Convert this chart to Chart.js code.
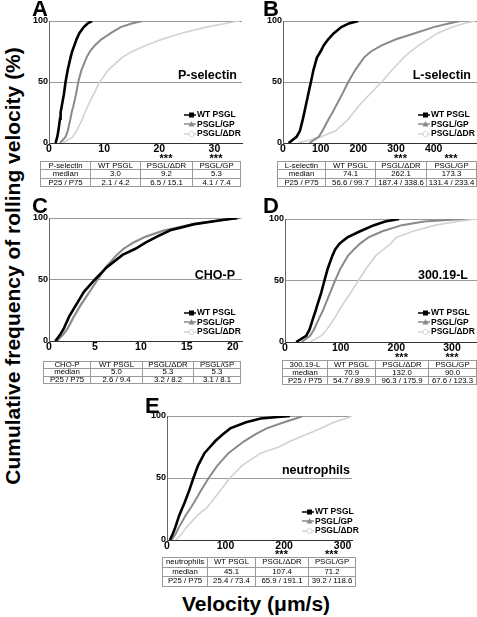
<!DOCTYPE html>
<html>
<head>
<meta charset="utf-8">
<script src="https://cdn.jsdelivr.net/npm/chart.js@4/dist/chart.umd.min.js"></script>
<style>
body { margin:0; width:477px; height:617px; position:relative; overflow:hidden; background:#fff; font-family:"Liberation Sans", Arial, sans-serif; color:#000; }
.box { position:absolute; }
.letter { position:absolute; font-weight:bold; font-size:22px; line-height:1; }
.pname { position:absolute; font-weight:bold; font-size:12.5px; line-height:1; white-space:nowrap; }
.leg { position:absolute; font-weight:bold; font-size:8.5px; line-height:9.5px; white-space:nowrap; }
.leg svg { vertical-align:middle; margin-right:1px; }
.stars { position:absolute; font-weight:bold; font-size:11px; line-height:1; transform:translateX(-50%); }
table.st { position:absolute; border-collapse:collapse; table-layout:fixed; font-size:7.8px; }
table.st td { border:1px solid #9a9a9a; text-align:center; padding:0; white-space:nowrap; overflow:hidden; }
.ytitle { position:absolute; left:13px; top:266px; font-weight:bold; font-size:21px; white-space:nowrap; transform:translate(-50%,-50%) rotate(-90deg); }
.xtitle { position:absolute; left:256px; top:604px; font-weight:bold; font-size:21px; white-space:nowrap; transform:translate(-50%,-50%); }
</style>
</head>
<body>
<div class="ytitle">Cumulative frequency of rolling velocity (%)</div>
<div class="xtitle">Velocity (μm/s)</div>
<script>
// cumulative percent levels shared by every curve
const pct = [0, 5, 10, 20, 25, 30, 40, 50, 60, 70, 75, 80, 85, 90, 95, 98, 100];
const yTicks = [0, 50, 100];
const seriesNames = ['WT PSGL', 'PSGL/GP', 'PSGL/ΔDR'];
const colHeads = ['WT PSGL', 'PSGL/ΔDR', 'PSGL/GP'];

// A - P-selectin
const velA_wt  = [1.2, 1.5, 1.7, 2.0, 2.1, 2.3, 2.7, 3.0, 3.4, 3.9, 4.2, 4.6, 5.0, 5.5, 6.3, 7.0, 7.8];
const velA_gp  = [2.0, 3.0, 3.4, 3.9, 4.1, 4.4, 4.9, 5.3, 5.9, 6.8, 7.4, 8.3, 9.5, 11.2, 13.0, 15.0, 17.0];
const velA_ddr = [2.5, 4.3, 5.0, 6.1, 6.5, 7.0, 8.1, 9.2, 10.8, 13.2, 15.1, 17.5, 20.5, 24.0, 28.5, 32.0, 34.5];
const xTicksA = [0, 10, 20, 30];
const medA = ['3.0', '9.2', '5.3'];
const iqrA = ['2.1 / 4.2', '6.5 / 15.1', '4.1 / 7.4'];

// B - L-selectin
const velB_wt  = [15, 36, 45, 53, 56.6, 60, 67, 74.1, 81, 90, 99.7, 108, 120, 135, 155, 175, 200];
const velB_gp  = [70, 95, 105, 122, 131.4, 140, 157, 173.3, 192, 215, 233.4, 262, 300, 350, 400, 440, 470];
const velB_ddr = [40, 100, 140, 175, 187.4, 200, 230, 262.1, 290, 320, 338.6, 360, 385, 410, 450, 480, 510];
const xTicksB = [0, 100, 200, 300, 400];
const medB = ['74.1', '262.1', '173.3'];
const iqrB = ['56.6 / 99.7', '187.4 / 338.6', '131.4 / 233.4'];

// C - CHO-P
const velC_wt  = [0.7, 1.2, 1.6, 2.2, 2.6, 3.0, 3.8, 5.0, 6.3, 8.0, 9.4, 10.5, 11.8, 13.2, 15.8, 18.5, 20.5];
const velC_gp  = [0.9, 1.5, 2.0, 2.7, 3.1, 3.5, 4.4, 5.3, 6.2, 7.4, 8.1, 9.2, 10.6, 12.6, 15.8, 18.5, 20.8];
const velC_ddr = [0.5, 1.6, 2.1, 2.8, 3.2, 3.6, 4.5, 5.3, 6.1, 7.3, 8.2, 9.0, 10.4, 12.4, 15.5, 18.2, 21.0];
const xTicksC = [0, 5, 10, 15, 20];
const medC = ['5.0', '5.3', '5.3'];
const iqrC = ['2.6 / 9.4', '3.2 / 8.2', '3.1 / 8.1'];

// D - 300.19-L
const velD_wt  = [20, 38, 44, 51, 54.7, 58, 65, 70.9, 77, 85, 89.9, 98, 112, 135, 160, 180, 205];
const velD_gp  = [30, 45, 52, 62, 67.6, 72, 81, 90.0, 100, 113, 123.3, 135, 150, 175, 210, 250, 320];
const velD_ddr = [45, 65, 75, 90, 96.3, 103, 118, 132.0, 146, 163, 175.9, 190, 200, 230, 270, 310, 345];
const xTicksD = [0, 100, 200, 300];
const medD = ['70.9', '132.0', '90.0'];
const iqrD = ['54.7 / 89.9', '96.3 / 175.9', '67.6 / 123.3'];

// E - neutrophils
const velE_wt  = [5, 10, 14, 21, 25.4, 30, 38, 45.1, 53, 64, 73.4, 83, 95, 108, 135, 160, 210];
const velE_gp  = [8, 15, 20, 32, 39.2, 46, 58, 71.2, 86, 105, 118.6, 133, 150, 170, 200, 220, 232];
const velE_ddr = [15, 25, 33, 52, 65.9, 75, 91, 107.4, 128, 160, 191.1, 212, 238, 262, 285, 305, 316];
const xTicksE = [0, 100, 200, 300];
const medE = ['45.1', '107.4', '71.2'];
const iqrE = ['25.4 / 73.4', '65.9 / 191.1', '39.2 / 118.6'];

const lineColors = ['#000000', '#8a8a8a', '#d2d2d2'];
const lineWidths = [2.6, 2, 1.6];
const FONT = '"Liberation Sans", Arial, sans-serif';

const panels = [
    { letter:'A', name:'P-selectin', series:[velA_wt, velA_gp, velA_ddr], xmax:35, xticks:xTicksA, med:medA, iqr:iqrA, p25label:'P25  /  P75',
      plot:[49, 21, 242, 143], letterPos:[32, -2], namePos:[237, 69], legPos:[184, 110], stars:true,
      table:{ x:[40, 90, 140, 192, 240], top:161, rowH:8.3 } },
    { letter:'B', name:'L-selectin', series:[velB_wt, velB_gp, velB_ddr], xmax:515, xticks:xTicksB, med:medB, iqr:iqrB,
      plot:[283, 21, 477, 143], letterPos:[263, -2], namePos:[471, 69], legPos:[418, 110], stars:true,
      table:{ x:[277, 325, 375, 426, 476], top:161, rowH:8.3 } },
    { letter:'C', name:'CHO-P', series:[velC_wt, velC_gp, velC_ddr], xmax:21, xticks:xTicksC, med:medC, iqr:iqrC,
      plot:[49, 218, 242, 341], letterPos:[32, 195], namePos:[235, 269], legPos:[184, 308], stars:false,
      table:{ x:[43, 90, 142, 193, 240], top:361, rowH:7.4 } },
    { letter:'D', name:'300.19-L', series:[velD_wt, velD_gp, velD_ddr], xmax:345, xticks:xTicksD, med:medD, iqr:iqrD,
      plot:[285, 219, 477, 342], letterPos:[263, 195], namePos:[468, 269], legPos:[418, 308], stars:true,
      table:{ x:[282, 327, 375, 428, 476], top:360, rowH:8 } },
    { letter:'E', name:'neutrophils', series:[velE_wt, velE_gp, velE_ddr], xmax:316, xticks:xTicksE, med:medE, iqr:iqrE,
      plot:[167, 416, 352, 540], letterPos:[145, 395], namePos:[350, 464], legPos:[302, 507], stars:true,
      table:{ x:[162, 207, 255, 308, 355], top:557, rowH:9.6 } }
];

const legendMarks = [
    '<line x1="0" y1="4" x2="12" y2="4" stroke="#000" stroke-width="1.5"/><rect x="5" y="1.5" width="5" height="5" fill="#000"/>',
    '<line x1="0" y1="4" x2="12" y2="4" stroke="#8a8a8a" stroke-width="1.5"/><polygon points="7.5,1 10.5,6.5 4.5,6.5" fill="#8a8a8a"/>',
    '<line x1="0" y1="4" x2="12" y2="4" stroke="#d2d2d2" stroke-width="1.5"/><circle cx="7.5" cy="4" r="2.6" fill="#fff" stroke="#d2d2d2" stroke-width="1"/>'
];

function addDiv(cls, html, css) {
    const d = document.createElement('div');
    d.className = cls; d.innerHTML = html;
    Object.assign(d.style, css);
    document.body.appendChild(d);
    return d;
}

function makePanel(p) {
    const padL = 30, padT = 8, padB = 14, padR = p.plot[2] >= 477 ? 0 : 2;
    const left = p.plot[0] - padL, top = p.plot[1] - padT;
    const w = p.plot[2] - left + padR, h = p.plot[3] - top + padB;

    const wrap = addDiv('box', '', { left: left + 'px', top: top + 'px', width: w + 'px', height: h + 'px' });
    const cv = document.createElement('canvas');
    cv.width = w; cv.height = h;
    cv.style.width = w + 'px'; cv.style.height = h + 'px';
    wrap.appendChild(cv);

    new Chart(cv, {
        type: 'scatter',
        data: {
            datasets: seriesNames.map((n, i) => ({
                label: n,
                data: pct.map((y, j) => ({ x: p.series[i][j], y })),
                showLine: true, borderColor: lineColors[i], borderWidth: lineWidths[i],
                pointRadius: 0, tension: 0, fill: false
            }))
        },
        options: {
            responsive: false, animation: false, devicePixelRatio: 1,
            layout: { padding: { top: padT, right: padR, left: 0, bottom: 0 } },
            plugins: { legend: { display: false }, tooltip: { enabled: false } },
            scales: {
                x: {
                    type: 'linear', min: 0, max: p.xmax,
                    afterBuildTicks: a => { a.ticks = p.xticks.map(v => ({ value: v })); },
                    afterFit: a => { a.height = padB; },
                    grid: { display: false, drawTicks: false },
                    border: { color: '#333', width: 1 },
                    ticks: { font: { family: FONT, size: 10.5, weight: 'bold' }, color: '#000', padding: 0, maxRotation: 0, autoSkip: false }
                },
                y: {
                    min: 0, max: 100,
                    afterBuildTicks: a => { a.ticks = yTicks.map(v => ({ value: v })); },
                    afterFit: a => { a.width = padL; },
                    grid: { color: c => (c.tick && c.tick.value > 0) ? '#9a9a9a' : 'rgba(0,0,0,0)', drawTicks: false },
                    border: { color: '#666', width: 1 },
                    ticks: { font: { family: FONT, size: 9, weight: 'bold' }, color: '#000', padding: 1 }
                }
            }
        }
    });

    // panel letter, panel name, legend
    addDiv('letter', p.letter, { left: p.letterPos[0] + 'px', top: p.letterPos[1] + 'px' });
    addDiv('pname', p.name, { right: (477 - p.namePos[0]) + 'px', top: p.namePos[1] + 'px' });
    addDiv('leg', seriesNames.map((n, i) =>
        `<div><svg width="12" height="8">${legendMarks[i]}</svg>${n}</div>`).join(''),
        { left: p.legPos[0] + 'px', top: p.legPos[1] + 'px' });

    // stats table under the plot
    const t = p.table, cols = t.x;
    const widths = cols.slice(1).map((x, i) => x - cols[i]);
    const tbl = document.createElement('table');
    tbl.className = 'st';
    Object.assign(tbl.style, { left: cols[0] + 'px', top: t.top + 'px', width: (cols[4] - cols[0]) + 'px' });
    const rows = [[p.name, ...colHeads], ['median', ...p.med], [p.p25label || 'P25 / P75', ...p.iqr]];
    tbl.innerHTML = '<colgroup>' + widths.map(wd => `<col style="width:${wd}px">`).join('') + '</colgroup>' +
        rows.map(r => '<tr>' + r.map(c => `<td style="height:${t.rowH - 1}px;line-height:${t.rowH - 1}px">${c}</td>`).join('') + '</tr>').join('');
    document.body.appendChild(tbl);

    // significance stars over the ΔDR and GP columns
    if (p.stars) {
        [2, 3].forEach(k => {
            const cx = (cols[k] + cols[k + 1]) / 2;
            addDiv('stars', '***', { left: cx + 'px', top: (t.top - 8) + 'px' });
        });
    }
}

panels.forEach(makePanel);
</script>
</body>
</html>
